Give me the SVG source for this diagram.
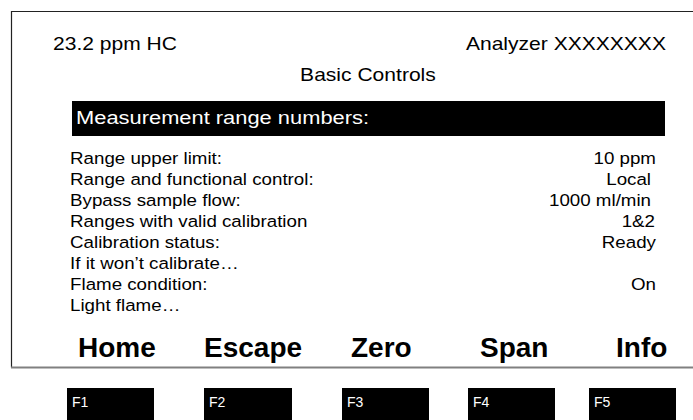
<svg xmlns="http://www.w3.org/2000/svg" width="693" height="420" viewBox="0 0 693 420">
<style>
text{font-family:"Liberation Sans",Arial,sans-serif;fill:#000}
.top{font-size:18px}
.hdr{font-size:18.7px;fill:#fff}
.body{font-size:16.3px}
.val{font-size:16.3px;text-anchor:end}
.fn{font-size:28px;font-weight:bold}
.key{fill:#000}
.keyt{font-size:14px;fill:#fff}
</style>
<rect width="693" height="420" fill="#fff"/>
<g id="frame">
<path d="M693,11.5 H11.5 V367.5" fill="none" stroke="#222" stroke-width="1.2"/>
<path d="M11,367.5 H693" fill="none" stroke="#808080" stroke-width="1.8"/>
</g>
<g id="status" transform="scale(1.17,1)">
<text class="top" x="45.3" y="50">23.2 ppm HC</text>
<text class="top" x="569.2" y="50" text-anchor="end">Analyzer XXXXXXXX</text>
<text class="top" x="314.5" y="81" text-anchor="middle">Basic Controls</text>
</g>
<g id="header">
<rect x="72" y="101" width="593" height="35" fill="#000"/>
<text class="hdr" x="65" y="124" transform="scale(1.17,1)">Measurement range numbers:</text>
</g>
<g id="rows" transform="scale(1.15,1)">
<text class="body" x="60.9" y="164">Range upper limit:</text>
<text class="body" x="60.9" y="185">Range and functional control:</text>
<text class="body" x="60.9" y="206">Bypass sample flow:</text>
<text class="body" x="60.9" y="227">Ranges with valid calibration</text>
<text class="body" x="60.9" y="248">Calibration status:</text>
<text class="body" x="60.9" y="269">If it won’t calibrate…</text>
<text class="body" x="60.9" y="290">Flame condition:</text>
<text class="body" x="60.9" y="311">Light flame…</text>
<text class="val" x="570.4" y="164">10 ppm</text>
<text class="val" x="566.1" y="185">Local</text>
<text class="val" x="566.1" y="206">1000 ml/min</text>
<text class="val" x="569.6" y="227">1&amp;2</text>
<text class="val" x="570.4" y="248">Ready</text>
<text class="val" x="570.4" y="290">On</text>
</g>
<g id="functions">
<text class="fn" x="78" y="357">Home</text>
<text class="fn" x="204" y="357">Escape</text>
<text class="fn" x="351" y="357">Zero</text>
<text class="fn" x="480" y="357">Span</text>
<text class="fn" x="616" y="357">Info</text>
</g>
<g id="key-F1"><rect class="key" x="67" y="388" width="87" height="32"/><text class="keyt" x="72" y="407">F1</text></g>
<g id="key-F2"><rect class="key" x="204" y="388" width="88" height="32"/><text class="keyt" x="209" y="407">F2</text></g>
<g id="key-F3"><rect class="key" x="342" y="388" width="87" height="32"/><text class="keyt" x="347" y="407">F3</text></g>
<g id="key-F4"><rect class="key" x="468" y="388" width="87" height="32"/><text class="keyt" x="473" y="407">F4</text></g>
<g id="key-F5"><rect class="key" x="589" y="388" width="87" height="32"/><text class="keyt" x="594" y="407">F5</text></g>
</svg>
